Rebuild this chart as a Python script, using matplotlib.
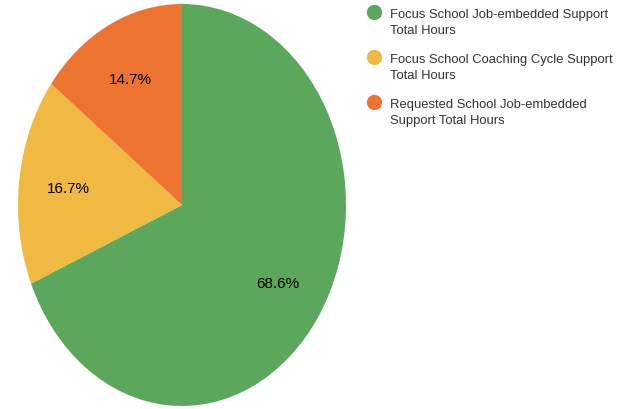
import matplotlib

matplotlib.use("Agg")
import matplotlib.pyplot as plt

labels = [
    "Focus School Job-embedded Support\nTotal Hours",
    "Focus School Coaching Cycle Support\nTotal Hours",
    "Requested School Job-embedded\nSupport Total Hours",
]
shares = [68.6, 16.7, 14.7]
colors = ["#5ba85c", "#f0b941", "#ec7430"]

W, H = 629, 410
fig = plt.figure(figsize=(W / 100, H / 100), dpi=100)
plt.rcParams["font.family"] = ["Liberation Sans", "DejaVu Sans"]

# pie is stretched into an ellipse in the reference
ax = fig.add_axes([18 / W, 3 / H, 328 / W, 402 / H])
ax.pie(
    shares,
    colors=colors,
    startangle=90,
    counterclock=False,
    autopct="%.1f%%",
    pctdistance=0.7,
    radius=1.0,
    wedgeprops={"linewidth": 0},
    textprops={"fontsize": 11, "color": "black"},
)
ax.set_aspect("auto")
ax.set_xlim(-1, 1)
ax.set_ylim(-1, 1)
ax.axis("off")

# legend drawn by hand: marker aligned with the first line of each label
leg_y = [13, 58, 103]
for lab, col, y in zip(labels, colors, leg_y):
    fig.add_artist(
        plt.Line2D([374 / W], [1 - y / H], marker="o", markersize=10,
                   color=col, linestyle="none", transform=fig.transFigure)
    )
    fig.text(390 / W, 1 - (y - 4) / H, lab, fontsize=9.4, color="#333333",
             va="top", ha="left", linespacing=1.42)

fig.savefig("out.png", dpi=100)
